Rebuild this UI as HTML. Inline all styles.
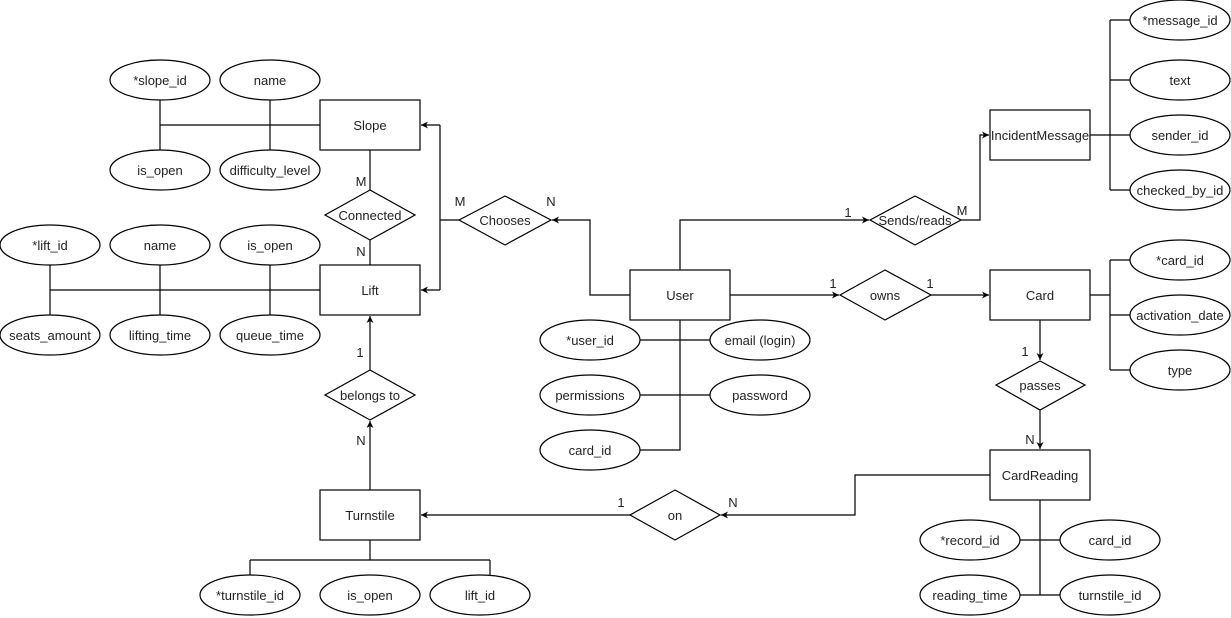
<!DOCTYPE html>
<html><head><meta charset="utf-8"><style>html,body{margin:0;padding:0;background:#fff}svg{display:block}text{font-family:"Liberation Sans",Arial,sans-serif;font-size:13px;fill:#222}</style></head>
<body>
<svg width="1231" height="618" viewBox="0 0 1231 618" xmlns="http://www.w3.org/2000/svg">
<defs><marker id="a" markerWidth="8" markerHeight="8" refX="7" refY="4" orient="auto" markerUnits="userSpaceOnUse"><path d="M0,0.5 L7,4 L0,7.5 L2,4 z" fill="#000"/></marker></defs>
<g stroke="#000" stroke-width="1.2" fill="none">
<!-- slope attrs -->
<path d="M160,100V150M270,100V150M160,125H320"/>
<!-- lift attrs -->
<path d="M50,265V315M160,265V315M270,265V315M50,290H320"/>
<!-- connected -->
<path d="M370,150V190M370,240V265"/>
<!-- chooses -->
<path d="M459,220H440M440,125V290"/>
<path d="M440,125H421" marker-end="url(#a)"/>
<path d="M440,290H421" marker-end="url(#a)"/>
<path d="M630,295H590V220H552" marker-end="url(#a)"/>
<!-- user attrs -->
<path d="M680,320V450H640M640,340H710M640,395H710"/>
<!-- sends -->
<path d="M680,270V220H869" marker-end="url(#a)"/>
<path d="M961,220H980V135H989" marker-end="url(#a)"/>
<!-- incident attrs -->
<path d="M1090,135H1110M1110,20V190M1110,20H1130M1110,80H1130M1110,135H1130M1110,190H1130"/>
<!-- owns -->
<path d="M730,295H839" marker-end="url(#a)"/>
<path d="M931,295H989" marker-end="url(#a)"/>
<!-- card attrs -->
<path d="M1090,295H1110M1110,260V370M1110,260H1130M1110,315H1130M1110,370H1130"/>
<!-- passes -->
<path d="M1040,320V360" marker-end="url(#a)"/>
<path d="M1040,410V449" marker-end="url(#a)"/>
<!-- cardreading attrs -->
<path d="M1040,500V595M1020,540H1060M1020,595H1060"/>
<!-- on -->
<path d="M990,475H855V515H721" marker-end="url(#a)"/>
<path d="M630,515H421" marker-end="url(#a)"/>
<!-- belongs -->
<path d="M370,490V421" marker-end="url(#a)"/>
<path d="M370,370V316" marker-end="url(#a)"/>
<!-- turnstile attrs -->
<path d="M370,540V560M250,560H490M250,560V575M490,560V575"/>
</g>
<g stroke="#000" stroke-width="1.2" fill="#fff">
<rect x="320" y="100" width="100" height="50"/>
<rect x="320" y="265" width="100" height="50"/>
<rect x="630" y="270" width="100" height="50"/>
<rect x="990" y="270" width="100" height="50"/>
<rect x="990" y="450" width="100" height="50"/>
<rect x="320" y="490" width="100" height="50"/>
<rect x="990" y="110" width="100" height="50"/>
<polygon points="370,190 415,215 370,240 325,215"/>
<polygon points="505,196 551,220 505,245 459,220"/>
<polygon points="915,196 961,220 915,245 870,220"/>
<polygon points="885,270 931,295 885,320 840,295"/>
<polygon points="1040,361 1085,385 1040,410 996,385"/>
<polygon points="675,490 720,515 675,540 630,515"/>
<polygon points="370,370 415,395 370,420 325,395"/>
<ellipse cx="160" cy="80" rx="50" ry="20"/><ellipse cx="270" cy="80" rx="50" ry="20"/>
<ellipse cx="160" cy="170" rx="50" ry="20"/><ellipse cx="270" cy="170" rx="50" ry="20"/>
<ellipse cx="50" cy="245" rx="50" ry="20"/><ellipse cx="160" cy="245" rx="50" ry="20"/><ellipse cx="270" cy="245" rx="50" ry="20"/>
<ellipse cx="50" cy="335" rx="50" ry="20"/><ellipse cx="160" cy="335" rx="50" ry="20"/><ellipse cx="270" cy="335" rx="50" ry="20"/>
<ellipse cx="590" cy="340" rx="50" ry="20"/><ellipse cx="760" cy="340" rx="50" ry="20"/>
<ellipse cx="590" cy="395" rx="50" ry="20"/><ellipse cx="760" cy="395" rx="50" ry="20"/>
<ellipse cx="590" cy="450" rx="50" ry="20"/>
<ellipse cx="1180" cy="20" rx="50" ry="20"/><ellipse cx="1180" cy="80" rx="50" ry="20"/>
<ellipse cx="1180" cy="135" rx="50" ry="20"/><ellipse cx="1180" cy="190" rx="50" ry="20"/>
<ellipse cx="1180" cy="260" rx="50" ry="20"/><ellipse cx="1180" cy="315" rx="50" ry="20"/><ellipse cx="1180" cy="370" rx="50" ry="20"/>
<ellipse cx="970" cy="540" rx="50" ry="20"/><ellipse cx="1110" cy="540" rx="50" ry="20"/>
<ellipse cx="970" cy="595" rx="50" ry="20"/><ellipse cx="1110" cy="595" rx="50" ry="20"/>
<ellipse cx="250" cy="595" rx="50" ry="20"/><ellipse cx="370" cy="595" rx="50" ry="20"/><ellipse cx="480" cy="595" rx="50" ry="20"/>
</g>
<g text-anchor="middle">
<text x="370" y="130">Slope</text><text x="370" y="295">Lift</text><text x="680" y="300">User</text>
<text x="1040" y="300">Card</text><text x="1040" y="480">CardReading</text><text x="370" y="520">Turnstile</text>
<text x="1040" y="140">IncidentMessage</text>
<text x="370" y="220">Connected</text><text x="505" y="225">Chooses</text><text x="915" y="225">Sends/reads</text>
<text x="885" y="300">owns</text><text x="1040" y="390">passes</text><text x="675" y="520">on</text><text x="370" y="400">belongs to</text>
<text x="160" y="85">*slope_id</text><text x="270" y="85">name</text><text x="160" y="175">is_open</text><text x="270" y="175">difficulty_level</text>
<text x="50" y="250">*lift_id</text><text x="160" y="250">name</text><text x="270" y="250">is_open</text>
<text x="50" y="340">seats_amount</text><text x="160" y="340">lifting_time</text><text x="270" y="340">queue_time</text>
<text x="590" y="345">*user_id</text><text x="760" y="345">email (login)</text><text x="590" y="400">permissions</text><text x="760" y="400">password</text><text x="590" y="455">card_id</text>
<text x="1180" y="25">*message_id</text><text x="1180" y="85">text</text><text x="1180" y="140">sender_id</text><text x="1180" y="195">checked_by_id</text>
<text x="1180" y="265">*card_id</text><text x="1180" y="320">activation_date</text><text x="1180" y="375">type</text>
<text x="970" y="545">*record_id</text><text x="1110" y="545">card_id</text><text x="970" y="600">reading_time</text><text x="1110" y="600">turnstile_id</text>
<text x="250" y="600">*turnstile_id</text><text x="370" y="600">is_open</text><text x="480" y="600">lift_id</text>
<text x="361" y="186">M</text><text x="361" y="256">N</text><text x="460" y="206">M</text><text x="551" y="206">N</text>
<text x="848" y="217">1</text><text x="962" y="215">M</text><text x="833" y="288">1</text><text x="930" y="288">1</text>
<text x="1025" y="356">1</text><text x="1030" y="444">N</text><text x="733" y="507">N</text><text x="621" y="507">1</text>
<text x="360" y="357">1</text><text x="361" y="445">N</text>
</g>
</svg>
</body></html>
